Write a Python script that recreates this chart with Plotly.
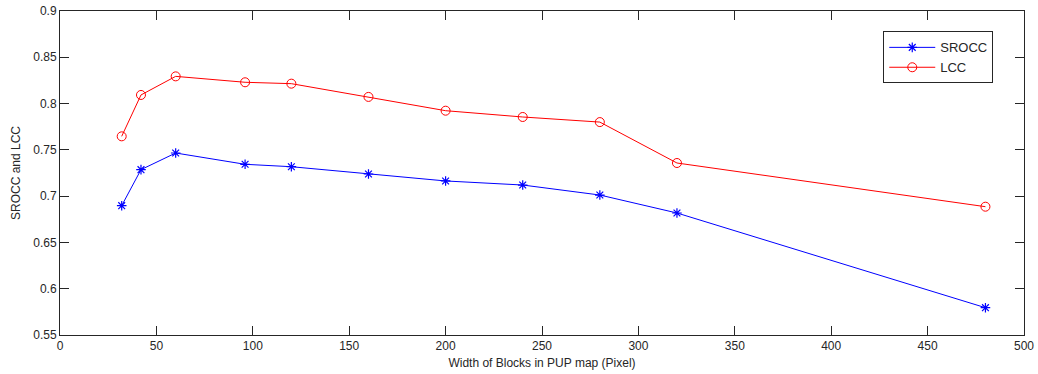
import plotly.graph_objects as go

block_width = [32, 42, 60, 96, 120, 160, 200, 240, 280, 320, 480]
srocc = [0.6897, 0.7286, 0.7466, 0.7344, 0.7318, 0.7239, 0.7164, 0.7120, 0.7012, 0.6818, 0.5795]
lcc = [0.7646, 0.8093, 0.8294, 0.8230, 0.8215, 0.8072, 0.7923, 0.7855, 0.7800, 0.7358, 0.6886]

x_ticks = [0, 50, 100, 150, 200, 250, 300, 350, 400, 450, 500]
y_ticks = [0.55, 0.6, 0.65, 0.7, 0.75, 0.8, 0.85, 0.9]
y_tick_text = ["0.55", "0.6", "0.65", "0.7", "0.75", "0.8", "0.85", "0.9"]

font_family = "Liberation Sans, Arial, sans-serif"
grey = "#262626"

fig = go.Figure()
fig.add_trace(go.Scatter(
    x=block_width, y=srocc, name="SROCC", mode="lines+markers",
    line=dict(color="#0000FF", width=1),
    marker=dict(symbol="asterisk-open", size=8, color="#0000FF", line=dict(width=1.2, color="#0000FF")),
))
fig.add_trace(go.Scatter(
    x=block_width, y=lcc, name="LCC", mode="lines+markers",
    line=dict(color="#FF0000", width=1),
    marker=dict(symbol="circle-open", size=9, color="#FF0000", line=dict(width=1, color="#FF0000")),
))

axis_common = dict(
    showgrid=False, zeroline=False, showline=True, linecolor=grey, linewidth=1,
    mirror="ticks", ticks="inside", ticklen=9, tickcolor=grey, tickwidth=1,
    tickfont=dict(family=font_family, size=12, color=grey),
    automargin=False,
)

fig.update_layout(
    width=1038, height=374,
    margin=dict(l=60, r=14, t=11, b=39),
    paper_bgcolor="white", plot_bgcolor="white",
    font=dict(family=font_family, size=12, color=grey),
    showlegend=True,
    legend=dict(
        x=0.854, y=0.937, xanchor="left", yanchor="top",
        bordercolor=grey, borderwidth=1, bgcolor="white",
        font=dict(family=font_family, size=13, color=grey),
        tracegroupgap=0, itemwidth=46,
    ),
    xaxis=dict(
        range=[0, 500], tickvals=x_ticks,
        title=dict(text="Width of Blocks in PUP map (Pixel)", standoff=6,
                   font=dict(family=font_family, size=12, color=grey)),
        **axis_common,
    ),
    yaxis=dict(
        range=[0.55, 0.9], tickvals=y_ticks, ticktext=y_tick_text,
        title=dict(text="SROCC and LCC", standoff=10,
                   font=dict(family=font_family, size=12, color=grey)),
        **axis_common,
    ),
)

fig.write_html("out.html")
